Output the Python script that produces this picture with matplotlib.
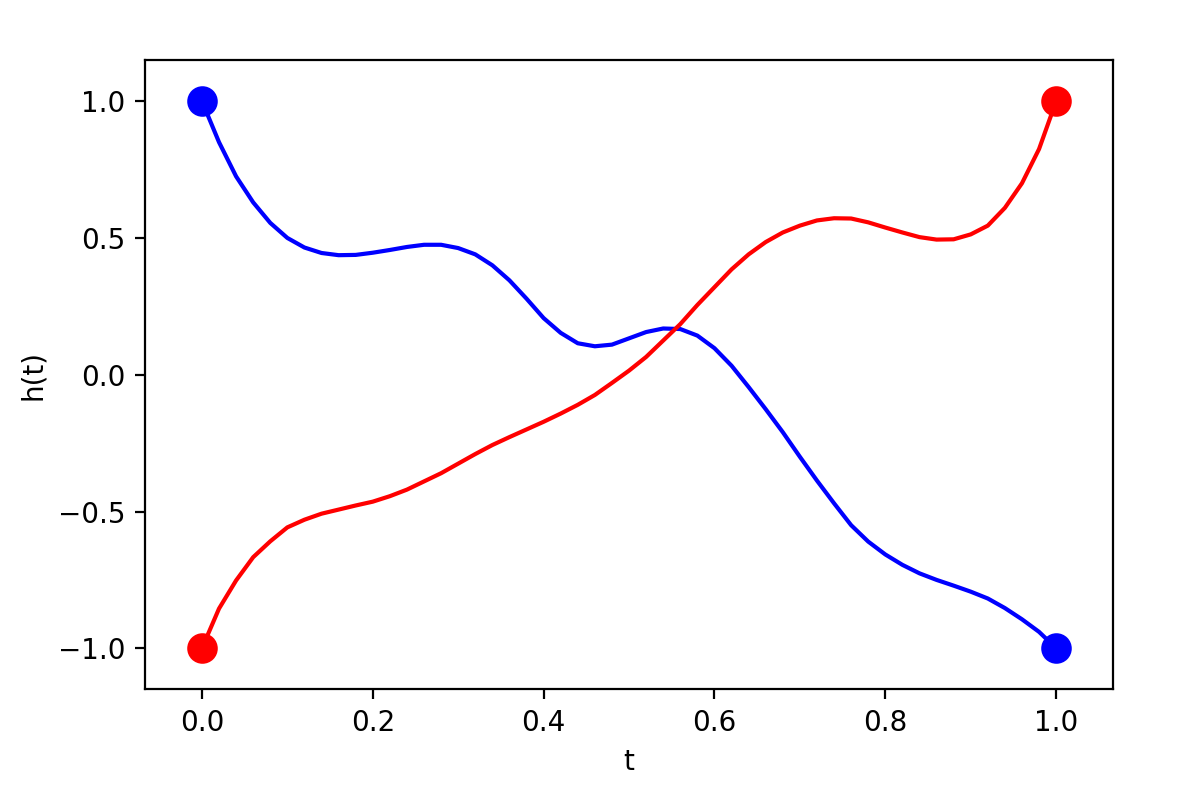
import numpy as np
import matplotlib
matplotlib.use("Agg")
import matplotlib.pyplot as plt

t = np.linspace(0, 1, 51)

blue_h = [1.00, 0.85, 0.725, 0.63, 0.555, 0.50, 0.465, 0.445, 0.437, 0.438,
          0.446, 0.456, 0.467, 0.475, 0.475, 0.463, 0.44, 0.40, 0.345, 0.278,
          0.207, 0.153, 0.115, 0.104, 0.11, 0.133, 0.156, 0.169, 0.167, 0.143,
          0.097, 0.033, -0.045, -0.126, -0.21, -0.30, -0.387, -0.47, -0.55, -0.61,
          -0.657, -0.695, -0.726, -0.75, -0.771, -0.793, -0.818, -0.853, -0.894, -0.94,
          -1.00]

red_h = [-1.00, -0.855, -0.752, -0.667, -0.609, -0.558, -0.53, -0.508, -0.493, -0.478,
         -0.464, -0.444, -0.42, -0.39, -0.36, -0.325, -0.29, -0.257, -0.228, -0.20,
         -0.172, -0.142, -0.11, -0.074, -0.03, 0.015, 0.065, 0.125, 0.185, 0.255,
         0.32, 0.385, 0.44, 0.485, 0.52, 0.545, 0.564, 0.572, 0.571, 0.557,
         0.538, 0.52, 0.503, 0.494, 0.495, 0.513, 0.545, 0.61, 0.70, 0.825,
         1.00]

blue_ends = [1.0, -1.0]
red_ends = [-1.0, 1.0]
ends_t = [0.0, 1.0]

fig = plt.figure(figsize=(5.98, 3.93), dpi=200)
ax = fig.add_axes([0.1212, 0.1230, 0.8095, 0.8005])

ax.plot(t, blue_h, color="blue", linewidth=1.5)
ax.plot(t, red_h, color="red", linewidth=1.5)
ax.plot(ends_t, blue_ends, "o", color="blue", markersize=10)
ax.plot(ends_t, red_ends, "o", color="red", markersize=10)

ax.set_xlim(-0.0667, 1.0667)
ax.set_ylim(-1.15, 1.15)
ax.set_xticks([0.0, 0.2, 0.4, 0.6, 0.8, 1.0])
ax.set_yticks([-1.0, -0.5, 0.0, 0.5, 1.0])
ax.set_xlabel("t")
ax.set_ylabel("h(t)")

fig.savefig("out.png", dpi=200)
